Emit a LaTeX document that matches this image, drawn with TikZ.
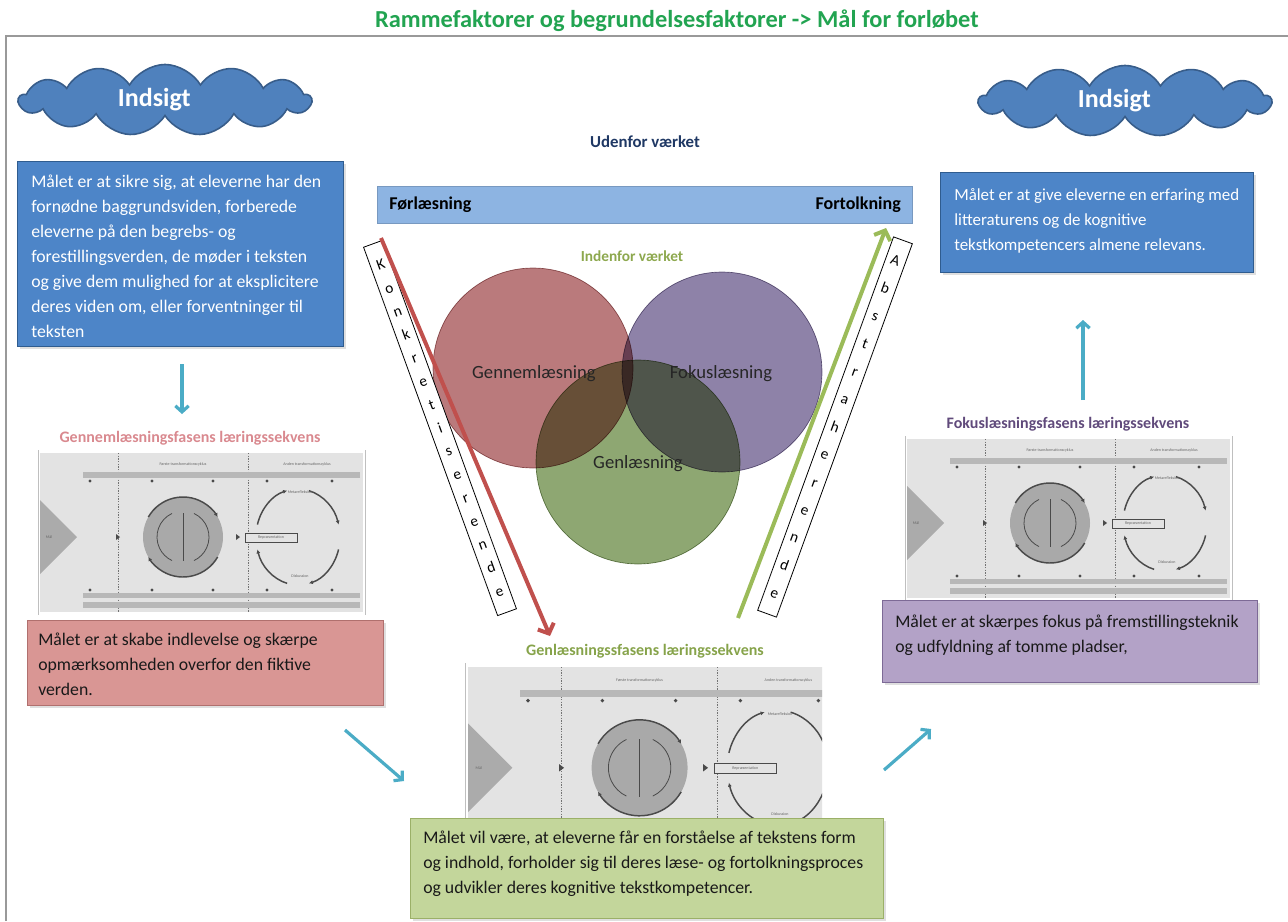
\documentclass[tikz,border=0pt]{standalone}
\usepackage{fontspec}
\setmainfont{Carlito}
\usetikzlibrary{shapes.symbols,arrows.meta,shadows}

\definecolor{titlegreen}{HTML}{22A451}
\definecolor{boxblue}{HTML}{4D85C8}
\definecolor{boxblueborder}{HTML}{2F5C8F}
\definecolor{cloudblue}{HTML}{4F81BD}
\definecolor{cloudborder}{HTML}{385D8A}
\definecolor{barblue}{HTML}{8DB4E2}
\definecolor{navytext}{HTML}{1F3864}
\definecolor{olivetext}{HTML}{8DA84E}
\definecolor{teal}{HTML}{4BACC6}
\definecolor{cred}{HTML}{BA7A7C}
\definecolor{cpurple}{HTML}{8E82A8}
\definecolor{cgreen}{HTML}{8EA772}
\definecolor{arrowred}{HTML}{C0504D}
\definecolor{arrowgreen}{HTML}{9BBB59}
\definecolor{pinkfill}{HTML}{D99694}
\definecolor{pinkborder}{HTML}{B0706E}
\definecolor{purplefill}{HTML}{B3A2C7}
\definecolor{purpleborder}{HTML}{7D6A96}
\definecolor{greenfill}{HTML}{C3D69B}
\definecolor{greenborder}{HTML}{9BB068}
\definecolor{pinktitle}{HTML}{D9898F}
\definecolor{purpletitle}{HTML}{604A7B}
\definecolor{greentitle}{HTML}{86A34A}
\definecolor{dgbg}{HTML}{E3E3E3}
\definecolor{dgbar}{HTML}{B8B8B8}
\definecolor{dgcirc}{HTML}{A9A9A9}
\definecolor{dgdark}{HTML}{4A4A4A}

\tikzset{
  bodytext/.style={font=\fontsize{13.3}{18.75}\selectfont, align=left, inner sep=0pt, anchor=west},
  goalbox/.style={rectangle, inner sep=0pt, anchor=north west, line width=1pt, drop shadow={opacity=0.25, shadow xshift=1.5pt, shadow yshift=-1.5pt}},
  cloudnode/.style={cloud, cloud puffs=13, cloud puff arc=120, aspect=4.5, minimum width=219pt, minimum height=49pt,
     fill=cloudblue, draw=cloudborder, line width=1.2pt, text=white, font=\fontsize{19.5}{22}\selectfont\bfseries},
  subtitle/.style={font=\fontsize{12}{14}\selectfont\bfseries, inner sep=0pt},
  letterbox/.style={draw=black, fill=white, line width=0.6pt, inner sep=0pt, minimum width=15pt, align=center},
  circlabel/.style={font=\fontsize{14}{16}\selectfont, text=black!85, inner sep=0pt},
  tealarrow/.style={draw=teal, line width=2.4pt, -{Straight Barb[length=4.5pt,width=10pt]}},
  bigarrow/.style={line width=3pt, -{Straight Barb[length=6pt,width=13pt]}},
  dgtext/.style={font=\fontsize{3}{3.5}\selectfont, text=black!60, inner sep=0pt},
  dgline/.style={draw=dgdark, line width=1.1pt, -{Latex[length=3pt,width=3pt]}},
}

\newcommand{\minidiagram}{%
  \fill[dgbg] (0,0) rectangle (323,159);
  \draw[black!25, line width=0.5pt] (-2,-3) -- (-2,162) (325,-3) -- (325,162);
  \draw[black!55, line width=0.4pt, dash pattern=on 1pt off 1pt] (78,0) -- (78,159) (208,0) -- (208,159);
  \node[dgtext] at (143,11) {Første transformationscyklus};
  \node[dgtext] at (267,11) {Anden transformationscyklus};
  \fill[dgbar] (43,19) rectangle (320,25);
  \fill[dgbar] (43,140) rectangle (320,145);
  \fill[dgbar] (43,149) rectangle (320,155);
  \foreach \xx in {50,112,173,227,292} {
    \fill[dgdark] (\xx,28) circle (1.6);
    \fill[dgdark] (\xx,137) circle (1.6);
  }
  \fill[black!33] (0,47) -- (37,84) -- (0,121) -- cycle;
  \node[dgtext] at (9,84) {Mål};
  \fill[dgdark] (76,81) -- (80,84) -- (76,87) -- cycle;
  \fill[dgdark] (196,81) -- (200,84) -- (196,87) -- cycle;
  \fill[dgcirc] (143,84) circle (40);
  \draw[dgline] (143,84) ++(-150:40) arc[start angle=-150, end angle=-30, radius=40];
  \draw[dgline] (143,84) ++(30:40) arc[start angle=30, end angle=150, radius=40];
  \draw[dgdark, line width=0.6pt] (143,84) ++(-115:26) arc[start angle=-115, end angle=-245, radius=26];
  \draw[dgdark, line width=0.6pt] (143,84) ++(-65:26) arc[start angle=-65, end angle=65, radius=26];
  \draw[dgdark, line width=0.7pt] (143,60) -- (143,108);
  \draw[dgdark, line width=0.5pt, fill=dgbg] (205,80) rectangle (257,89);
  \node[dgtext] at (231,84.5) {Repræsentation};
  \draw[dgline] (258,84) ++(-165:42 and 48) arc[start angle=-165, end angle=-105, x radius=42, y radius=48];
  \draw[dgline] (258,84) ++(-75:42 and 48) arc[start angle=-75, end angle=-15, x radius=42, y radius=48];
  \draw[dgline] (258,84) ++(15:42 and 48) arc[start angle=15, end angle=75, x radius=42, y radius=48];
  \draw[dgline] (258,84) ++(105:42 and 48) arc[start angle=105, end angle=165, x radius=42, y radius=48];
  \node[dgtext] at (260,39) {Metarefleksion};
  \node[dgtext] at (260,123) {Diskussion};
}

\begin{document}
\begin{tikzpicture}[x=0.75pt,y=-0.75pt]
\useasboundingbox (0,0) rectangle (1288,921);

% frame
\draw[black!40, line width=0.8pt] (6,921) -- (6,36) -- (1288,36);

% title
\node[font=\fontsize{18.3}{21}\selectfont\bfseries, text=titlegreen, inner sep=0pt] (title) at (677,21) {Rammefaktorer og begrundelsesfaktorer -> Mål for forløbet};

% clouds
\node[cloudnode] (cloudL) at (165,100) {\hspace*{-16pt}Indsigt};
\node[cloudnode] (cloudR) at (1125,101) {\hspace*{-16pt}Indsigt};

% blue goal boxes
\node[goalbox, draw=boxblueborder, fill=boxblue, minimum width=244.5pt, minimum height=138.75pt] (goalA) at (17,161) {};
\node[bodytext, text=white] (goalAtext) at (31,256) {Målet er at sikre sig, at eleverne har den\\fornødne baggrundsviden, forberede\\eleverne på den begrebs- og\\forestillingsverden, de møder i teksten\\og give dem mulighed for at eksplicitere\\deres viden om, eller forventninger til\\teksten};

\node[goalbox, draw=boxblueborder, fill=boxblue, minimum width=234.75pt, minimum height=75pt] (goalE) at (940,172) {};
\node[bodytext, text=white, font=\fontsize{12.7}{18.75}\selectfont] (goalEtext) at (954,221) {Målet er at give eleverne en erfaring med\\litteraturens og de kognitive\\tekstkompetencers almene relevans.};

% Udenfor / bar
\node[font=\fontsize{12.6}{14}\selectfont\bfseries, text=navytext, inner sep=0pt] (ude) at (645,142) {Udenfor værket};
\node[rectangle, fill=barblue, draw=barblue!85!black, line width=0.3pt, anchor=north west, minimum width=401.25pt, minimum height=27.75pt, inner sep=0pt] (bar) at (377,186) {};
\node[font=\fontsize{13.5}{15}\selectfont\bfseries, anchor=west, inner sep=0pt] (forl) at (389,205) {Førlæsning};
\node[font=\fontsize{13.5}{15}\selectfont\bfseries, anchor=east, inner sep=0pt] (fort) at (901,205) {Fortolkning};

% Indenfor
\node[font=\fontsize{11.5}{13}\selectfont\bfseries, text=olivetext, inner sep=0pt] (inde) at (632,256) {Indenfor værket};

% circles
\begin{scope}[blend group=multiply]
  \node[circle, fill=cred, draw=cred!85!black, line width=0.5pt, minimum size=150pt, inner sep=0pt] (cR) at (533,368) {};
  \node[circle, fill=cpurple, draw=cpurple!85!black, line width=0.5pt, minimum size=150pt, inner sep=0pt] (cP) at (722,372) {};
  \node[circle, fill=cgreen, draw=cgreen!85!black, line width=0.5pt, minimum size=153pt, inner sep=0pt] (cG) at (638,462) {};
\end{scope}
\node[circlabel] (lR) at (534,374) {Gennemlæsning};
\node[circlabel] (lP) at (721,374) {Fokuslæsning};
\node[circlabel] (lG) at (638,464) {Genlæsning};

% letter boxes
\node[letterbox, rotate=20, minimum height=294pt, font=\fontsize{11.5}{18.6}\selectfont] (konk) at (440,428) {K\\o\\n\\k\\r\\e\\t\\i\\s\\e\\r\\e\\n\\d\\e};
\node[letterbox, rotate=-20, minimum height=298pt, font=\fontsize{11.5}{22.1}\selectfont] (abst) at (835,427) {A\\b\\s\\t\\r\\a\\h\\e\\r\\e\\n\\d\\e};

% big arrows
\coordinate (redS) at (381,238);
\coordinate (redE) at (550,636);
\coordinate (grnS) at (738,618);
\coordinate (grnE) at (886,228);
\draw[bigarrow, draw=arrowred] (redS) -- (redE);
\draw[bigarrow, draw=arrowgreen] (grnS) -- (grnE);

% mini diagrams
\node[subtitle, text=pinktitle] (tG) at (190,438) {Gennemlæsningsfasens læringssekvens};
\begin{scope}[shift={(40,453)}]
  \minidiagram
\end{scope}
\node[subtitle, text=purpletitle] (tF) at (1068,424) {Fokuslæsningsfasens læringssekvens};
\begin{scope}[shift={(907,439)}]
  \minidiagram
\end{scope}
\node[subtitle, text=greentitle] (tR) at (645,651) {Genlæsningssfasens læringssekvens};
\begin{scope}[shift={(468,667)}, scale=1.2]
  \clip (-4,-4) rectangle (295,170);
  \minidiagram
\end{scope}

% goal boxes bottom
\node[goalbox, draw=pinkborder, fill=pinkfill, minimum width=267pt, minimum height=63.75pt] (goalB) at (27,620) {};
\node[bodytext, text=black!90] (goalBtext) at (38,664) {Målet er at skabe indlevelse og skærpe\\opmærksomheden overfor den fiktive\\verden.};

\node[goalbox, draw=purpleborder, fill=purplefill, minimum width=281.25pt, minimum height=61.5pt] (goalD) at (882,600) {};
\node[bodytext, text=black!90] (goalDtext) at (895,635) {Målet er at skærpes fokus på fremstillingsteknik\\og udfyldning af tomme pladser,};

\node[goalbox, draw=greenborder, fill=greenfill, minimum width=354.75pt, minimum height=75pt] (goalC) at (410,818) {};
\node[bodytext, text=black!90] (goalCtext) at (423,864) {Målet vil være, at eleverne får en forståelse af tekstens form\\og indhold, forholder sig til deres læse- og fortolkningsproces\\og udvikler deres kognitive tekstkompetencer.};

% teal arrows
\coordinate (t1s) at (182,364);
\coordinate (t1e) at (182,414);
\coordinate (t2s) at (1083,400);
\coordinate (t2e) at (1083,320);
\coordinate (t3s) at (345,730);
\coordinate (t3e) at (404,781);
\coordinate (t4s) at (884,770);
\coordinate (t4e) at (931,729);
\draw[tealarrow] (t1s) -- (t1e);
\draw[tealarrow] (t2s) -- (t2e);
\draw[tealarrow] (t3s) -- (t3e);
\draw[tealarrow] (t4s) -- (t4e);

\end{tikzpicture}
\end{document}
